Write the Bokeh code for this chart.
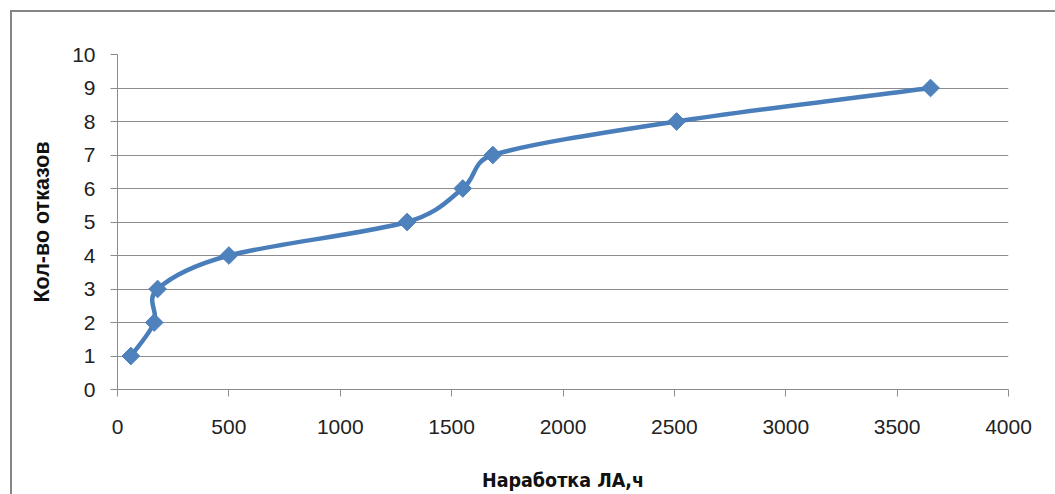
import math
from bokeh.plotting import figure
from bokeh.models import Range1d, FixedTicker
from bokeh.embed import file_html
from bokeh.resources import INLINE

# Operating hours of the aircraft at each failure and the running failure count
hours = [60, 165, 180, 500, 1300, 1550, 1685, 2510, 3650]
failures = [1, 2, 3, 4, 5, 6, 7, 8, 9]

x_ticks = [0, 500, 1000, 1500, 2000, 2500, 3000, 3500, 4000]
y_ticks = [0, 1, 2, 3, 4, 5, 6, 7, 8, 9, 10]

x_title = "Наработка ЛА,ч"
y_title = "Кол-во отказов"

LINE = "#4A7EBB"
FILL = "#4F81BD"
GRID = "#8C8C8C"

W, H = 1055, 494
LEFT, RIGHT, TOP, BOTTOM = 117, 47, 54, 105
X0, X1, Y0, Y1 = 0, 4000, 0, 10

p = figure(width=W, height=H, output_backend="svg", toolbar_location=None,
           x_range=Range1d(X0, X1), y_range=Range1d(Y0, Y1),
           min_border_left=LEFT, min_border_right=RIGHT,
           min_border_top=TOP, min_border_bottom=BOTTOM)
p.outline_line_color = None
p.background_fill_color = "white"
p.border_fill_color = None
# chart-area border (left and top edges) drawn behind the transparent canvas margin
p.styles = {
    "background-color": "white",
    "background-image": "linear-gradient(#868686, #868686), linear-gradient(#868686, #868686)",
    "background-position": "10px 10px, 10px 10px",
    "background-size": "2px 100%, 100% 2px",
    "background-repeat": "no-repeat",
}

# Smoothed series: cubic Bezier segments, tangents from neighbouring points,
# control arms limited to half the segment length (measured on screen)
sx = (W - LEFT - RIGHT) / (X1 - X0)
sy = (H - TOP - BOTTOM) / (Y1 - Y0)


def dist(i, j):
    return math.hypot((hours[j] - hours[i]) * sx, (failures[j] - failures[i]) * sy)


n = len(hours)
x0, y0, x1, y1, cx0, cy0, cx1, cy1 = [], [], [], [], [], [], [], []
for i in range(n - 1):
    a = max(i - 1, 0)
    b = min(i + 2, n - 1)
    seg = dist(i, i + 1)
    d0 = dist(a, i + 1)
    d1 = dist(i, b)
    f0 = 1 / 6 if d0 / 6 < seg / 2 else (seg / 2) / d0
    f1 = 1 / 6 if d1 / 6 < seg / 2 else (seg / 2) / d1
    x0.append(hours[i]); y0.append(failures[i])
    x1.append(hours[i + 1]); y1.append(failures[i + 1])
    cx0.append(hours[i] + (hours[i + 1] - hours[a]) * f0)
    cy0.append(failures[i] + (failures[i + 1] - failures[a]) * f0)
    cx1.append(hours[i + 1] - (hours[b] - hours[i]) * f1)
    cy1.append(failures[i + 1] - (failures[b] - failures[i]) * f1)

p.bezier(x0=x0, y0=y0, x1=x1, y1=y1, cx0=cx0, cy0=cy0, cx1=cx1, cy1=cy1,
         line_color=LINE, line_width=4.5)
p.scatter(hours, failures, marker="square", angle=math.pi / 4, size=12.5,
          fill_color=FILL, line_color=LINE, line_width=1)

# Axes
p.xaxis.ticker = FixedTicker(ticks=x_ticks)
p.yaxis.ticker = FixedTicker(ticks=y_ticks)
for ax in (p.xaxis[0], p.yaxis[0]):
    ax.axis_line_color = GRID
    ax.major_tick_line_color = GRID
    ax.major_tick_out = 7
    ax.major_tick_in = 0
    ax.minor_tick_line_color = None
    ax.major_label_text_font = "Liberation Sans"
    ax.major_label_text_font_size = "21px"
    ax.major_label_text_color = "#222222"
    ax.axis_label_text_font_style = "bold"
    ax.axis_label_text_color = "#111111"

p.xaxis.major_label_standoff = 23
p.yaxis.major_label_standoff = 15
p.xaxis.axis_label = x_title
p.xaxis.axis_label_text_font = "'DejaVu Sans Condensed', 'Liberation Sans'"
p.xaxis.axis_label_text_font_size = "19.5px"
p.xaxis.axis_label_standoff = 32
p.yaxis.axis_label = y_title
p.yaxis.axis_label_text_font = "Liberation Sans"
p.yaxis.axis_label_text_font_size = "21.5px"
p.yaxis.axis_label_standoff = 15

p.xgrid.grid_line_color = None
p.ygrid.grid_line_color = GRID
p.ygrid.grid_line_width = 1

open("out.html", "w").write(file_html(p, INLINE))
